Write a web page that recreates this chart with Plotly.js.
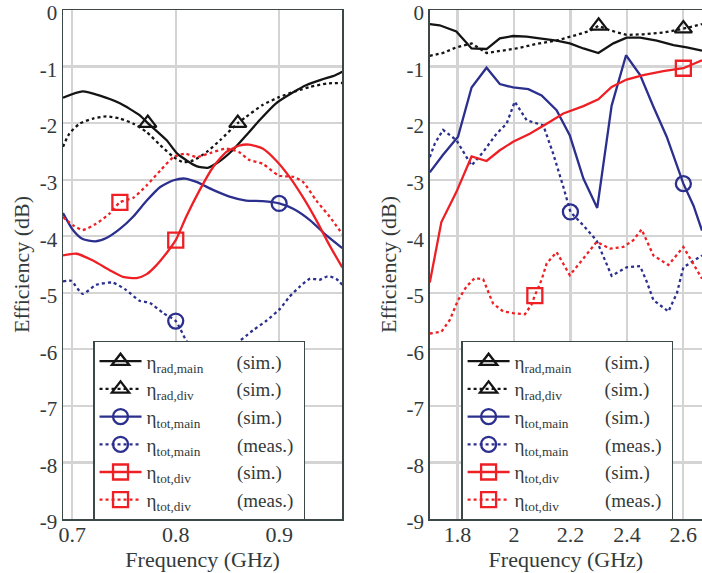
<!DOCTYPE html>
<html><head><meta charset="utf-8">
<script src="https://cdn.plot.ly/plotly-3.0.1.min.js"></script>
<style>html,body{margin:0;padding:0;background:#fff}</style>
</head><body><div id="chart" style="width:702px;height:573px"></div>
<script>
// ---------- Left panel (low band) ----------
const fL_radMain = [0.691,0.710,0.726,0.746,0.765,0.773,0.791,0.802,0.820,0.831,0.842,0.855,0.868,0.881,0.897,0.914,0.926,0.941,0.952,0.961];
const vL_radMain = [-1.55,-1.44,-1.51,-1.65,-1.86,-2.00,-2.30,-2.55,-2.76,-2.79,-2.68,-2.48,-2.22,-1.95,-1.65,-1.45,-1.33,-1.23,-1.17,-1.09];
const fL_radDiv = [0.691,0.697,0.707,0.720,0.733,0.746,0.759,0.772,0.785,0.798,0.807,0.817,0.830,0.843,0.860,0.868,0.884,0.900,0.917,0.930,0.946,0.961];
const vL_radDiv = [-2.42,-2.19,-2.01,-1.92,-1.88,-1.92,-2.01,-2.16,-2.39,-2.60,-2.69,-2.66,-2.51,-2.30,-2.00,-1.89,-1.68,-1.54,-1.43,-1.36,-1.30,-1.29];
const fL_totMainSim = [0.691,0.701,0.710,0.722,0.733,0.746,0.759,0.772,0.785,0.798,0.809,0.820,0.836,0.852,0.868,0.884,0.900,0.914,0.930,0.946,0.961];
const vL_totMainSim = [-3.59,-3.90,-4.05,-4.09,-4.03,-3.87,-3.65,-3.37,-3.13,-3.01,-2.98,-3.04,-3.18,-3.30,-3.37,-3.38,-3.42,-3.52,-3.72,-3.99,-4.21];
const fL_totMainMeas = [0.691,0.699,0.710,0.723,0.739,0.752,0.765,0.775,0.788,0.800,0.810,0.817,0.825,0.835,0.845,0.852,0.875,0.888,0.901,0.910,0.920,0.930,0.939,0.947,0.955,0.961];
const vL_totMainMeas = [-4.80,-4.79,-5.02,-4.86,-4.82,-4.95,-5.14,-5.18,-5.36,-5.50,-5.84,-5.99,-6.10,-6.15,-6.05,-5.99,-5.66,-5.49,-5.28,-5.07,-4.89,-4.75,-4.77,-4.71,-4.75,-4.86];
const fL_totDivSim = [0.691,0.704,0.720,0.736,0.749,0.762,0.772,0.781,0.791,0.800,0.810,0.823,0.836,0.849,0.861,0.871,0.884,0.897,0.910,0.923,0.936,0.949,0.961];
const vL_totDivSim = [-4.34,-4.31,-4.43,-4.60,-4.72,-4.74,-4.67,-4.52,-4.30,-4.07,-3.66,-3.19,-2.78,-2.51,-2.40,-2.38,-2.45,-2.66,-2.95,-3.31,-3.72,-4.17,-4.55];
const fL_totDivMeas = [0.691,0.701,0.710,0.723,0.736,0.746,0.759,0.772,0.785,0.798,0.809,0.820,0.833,0.849,0.861,0.871,0.884,0.900,0.914,0.923,0.936,0.949,0.961];
const vL_totDivMeas = [-3.66,-3.81,-3.89,-3.78,-3.60,-3.40,-3.32,-3.10,-2.84,-2.60,-2.54,-2.60,-2.53,-2.45,-2.51,-2.65,-2.72,-2.93,-2.95,-3.04,-3.37,-3.66,-3.96];

// frequencies (left panel) at which a symbol is drawn on each curve
const mkL_radMain = [0.773];
const mkL_radDiv = [0.860];
const mkL_totMainSim = [0.900];
const mkL_totMainMeas = [0.800];
const mkL_totDivSim = [0.800];
const mkL_totDivMeas = [0.746];

// ---------- Right panel (high band) ----------
const fR_radMain = [1.702,1.737,1.796,1.850,1.903,1.950,1.997,2.045,2.104,2.151,2.198,2.246,2.299,2.352,2.399,2.447,2.506,2.565,2.612,2.666];
const vR_radMain = [-0.25,-0.27,-0.38,-0.68,-0.69,-0.50,-0.46,-0.47,-0.51,-0.54,-0.59,-0.68,-0.76,-0.59,-0.49,-0.49,-0.54,-0.62,-0.66,-0.72];
const fR_radDiv = [1.702,1.749,1.796,1.850,1.903,1.950,2.009,2.080,2.151,2.222,2.269,2.300,2.340,2.399,2.458,2.529,2.600,2.666];
const vR_radDiv = [-0.81,-0.76,-0.66,-0.59,-0.76,-0.73,-0.68,-0.60,-0.54,-0.44,-0.37,-0.28,-0.36,-0.44,-0.43,-0.40,-0.33,-0.25];
const fR_totMainSim = [1.702,1.749,1.802,1.850,1.903,1.950,1.997,2.051,2.098,2.151,2.198,2.246,2.295,2.346,2.397,2.447,2.494,2.541,2.600,2.636,2.666];
const vR_totMainSim = [-2.87,-2.56,-2.24,-1.37,-1.02,-1.31,-1.37,-1.40,-1.51,-1.77,-2.22,-2.98,-3.50,-1.69,-0.80,-1.15,-1.71,-2.24,-3.07,-3.46,-3.90];
const fR_totMainMeas = [1.702,1.720,1.749,1.796,1.850,1.891,1.938,1.974,2.003,2.045,2.104,2.139,2.175,2.200,2.246,2.293,2.346,2.399,2.447,2.470,2.494,2.547,2.577,2.600,2.666];
const vR_totMainMeas = [-2.60,-2.36,-2.12,-2.30,-2.75,-2.51,-2.19,-2.01,-1.62,-1.95,-2.04,-2.54,-3.13,-3.57,-3.81,-4.08,-4.70,-4.55,-4.53,-4.80,-5.13,-5.33,-5.01,-4.55,-4.34];
const fR_totDivSim = [1.702,1.743,1.796,1.850,1.903,1.950,1.997,2.056,2.116,2.175,2.246,2.299,2.346,2.399,2.458,2.529,2.600,2.666];
const vR_totDivSim = [-4.82,-3.75,-3.22,-2.59,-2.67,-2.48,-2.33,-2.19,-2.01,-1.83,-1.70,-1.58,-1.36,-1.23,-1.15,-1.08,-1.03,-0.89];
const fR_totDivMeas = [1.702,1.743,1.773,1.802,1.832,1.861,1.891,1.926,1.962,1.997,2.039,2.062,2.074,2.098,2.116,2.151,2.198,2.246,2.293,2.340,2.387,2.423,2.452,2.494,2.547,2.600,2.648,2.666];
const vR_totDivMeas = [-5.72,-5.69,-5.48,-5.13,-4.89,-4.74,-4.76,-5.19,-5.33,-5.36,-5.38,-5.21,-5.05,-4.77,-4.48,-4.28,-4.69,-4.40,-4.10,-4.22,-4.19,-4.07,-3.88,-4.34,-4.51,-4.19,-4.60,-4.75];

// frequencies (right panel) at which a symbol is drawn on each curve
const mkR_radMain = [];
const mkR_radDiv = [2.300, 2.600];
const mkR_totMainSim = [2.600];
const mkR_totMainMeas = [2.200];
const mkR_totDivSim = [2.600];
const mkR_totDivMeas = [2.074];

// ---------- Axis ticks ----------
const yTickVals = [0,-1,-2,-3,-4,-5,-6,-7,-8,-9];
const yTickText = ['0','-1','-2','-3','-4','-5','-6','-7','-8','-9'];
const xTickValsL = [0.7,0.8,0.9];
const xTickTextL = ['0.7','0.8','0.9'];
const xTickValsR = [1.8,2.0,2.2,2.4,2.6];
const xTickTextR = ['1.8','2','2.2','2.4','2.6'];

// legend labels
const legNames = ['η<sub>rad,main</sub>','η<sub>rad,div</sub>','η<sub>tot,main</sub>','η<sub>tot,main</sub>','η<sub>tot,div</sub>','η<sub>tot,div</sub>'];
const legKinds = ['(sim.)','(sim.)','(sim.)','(meas.)','(sim.)','(meas.)'];

// ---------- styling ----------
const NB = '\u00A0';
const base = NB.repeat(7);
const pads = [base, base+NB+NB, base+'<sub>'+NB+'</sub>', base+'<sub>'+NB+'</sub>', base+NB+NB+'<sub>'+NB+'</sub>', base+NB+NB+'<sub>'+NB+'</sub>'];
const tails = [NB.repeat(2), NB.repeat(2), NB.repeat(2), NB.repeat(1), NB.repeat(2), NB.repeat(1)];
const BLACK='#141414', BLUE='#2b2f8e', RED='#ee2025';
const styles = [
  {color:BLACK, dash:'solid', symbol:'triangle-up-open'},
  {color:BLACK, dash:'dot', symbol:'triangle-up-open'},
  {color:BLUE, dash:'solid', symbol:'circle-open'},
  {color:BLUE, dash:'dot', symbol:'circle-open'},
  {color:RED, dash:'solid', symbol:'square-open'},
  {color:RED, dash:'dot', symbol:'square-open'}
];
const LW = 2.3;

function trace(xs, ys, marks, i, xa, ya, leg, smooth){
  const s = styles[i];
  const sel = [];
  xs.forEach((x,k)=>{ if(marks.some(m=>Math.abs(m-x)<1e-9)) sel.push(k); });
  const t = {x:xs, y:ys, type:'scatter', mode:'lines+markers', xaxis:xa, yaxis:ya, legend:leg,
    name: legNames[i] + pads[i] + legKinds[i] + tails[i],
    line:{color:s.color, width:LW, dash:s.dash},
    marker:{symbol:s.symbol, size:15, color:s.color, line:{color:s.color, width:2.3}},
    selectedpoints: sel,
    selected:{marker:{opacity:1}},
    unselected:{marker:{opacity:0}},
    hoverinfo:'skip'};
  if(smooth){ t.line.shape='spline'; t.line.smoothing=0.6; }
  return t;
}

const Lser = [[fL_radMain,vL_radMain,mkL_radMain],[fL_radDiv,vL_radDiv,mkL_radDiv],[fL_totMainSim,vL_totMainSim,mkL_totMainSim],[fL_totMainMeas,vL_totMainMeas,mkL_totMainMeas],[fL_totDivSim,vL_totDivSim,mkL_totDivSim],[fL_totDivMeas,vL_totDivMeas,mkL_totDivMeas]];
const Rser = [[fR_radMain,vR_radMain,mkR_radMain],[fR_radDiv,vR_radDiv,mkR_radDiv],[fR_totMainSim,vR_totMainSim,mkR_totMainSim],[fR_totMainMeas,vR_totMainMeas,mkR_totMainMeas],[fR_totDivSim,vR_totDivSim,mkR_totDivSim],[fR_totDivMeas,vR_totDivMeas,mkR_totDivMeas]];

const traces = [];
Lser.forEach((d,i)=>traces.push(trace(d[0],d[1],d[2],i,'x','y','legend',true)));
Rser.forEach((d,i)=>traces.push(trace(d[0],d[1],d[2],i,'x2','y2','legend2',false)));

const FONT = "'Liberation Serif', 'Times New Roman', Times, serif";
const TXT = '#333a3a';
const AX = '#3c4848';
const GRID = '#d4d4d4';
function xax(dom, range, vals, text, anchor){
  return {domain:dom, range:range, anchor:anchor, tickvals:vals, ticktext:text, showgrid:true, gridcolor:GRID, gridwidth:2.2,
    zeroline:false, showline:true, linecolor:AX, linewidth:1.5, mirror:true, ticks:'', ticklabeloverflow:'allow',
    ticklabelstandoff:-5,
    tickfont:{family:FONT, size:22, color:TXT},
    title:{text:'Frequency (GHz)', font:{family:FONT, size:22, color:TXT}, standoff:1}};
}
function yax(anchor){
  return {domain:[0,1], range:[-9,0], anchor:anchor, tickvals:yTickVals, ticktext:yTickText, showgrid:true, gridcolor:GRID, gridwidth:2.2,
    zeroline:false, showline:true, linecolor:AX, linewidth:1.5, mirror:true, ticks:'', ticklabeloverflow:'allow',
    ticklabelshift:3,
    tickfont:{family:FONT, size:21, color:TXT},
    title:{text:'Efficiency (dB)', font:{family:FONT, size:22, color:TXT}, standoff:4}};
}
const legStyle = (x,y)=>({x:x, y:y, xanchor:'left', yanchor:'top', bgcolor:'#ffffff', bordercolor:AX, borderwidth:1.5,
  font:{family:FONT, size:19, color:TXT}, itemwidth:42, tracegroupgap:0});

const layout = {
  width:702, height:573, margin:{l:63, r:0, t:10, b:54},
  paper_bgcolor:'#fff', plot_bgcolor:'#fff',
  font:{family:FONT, color:TXT},
  xaxis: xax([0,0.437],[0.691,0.961],xTickValsL,xTickTextL,'y'),
  yaxis: yax('x'),
  xaxis2: xax([0.574,1],[1.702,2.666],xTickValsR,xTickTextR,'y2'),
  yaxis2: yax('x2'),
  legend: legStyle(0.047,0.350),
  legend2: legStyle(0.623,0.350),
  showlegend:true
};
Plotly.newPlot('chart', traces, layout, {staticPlot:true, displayModeBar:false});
</script></body></html>
